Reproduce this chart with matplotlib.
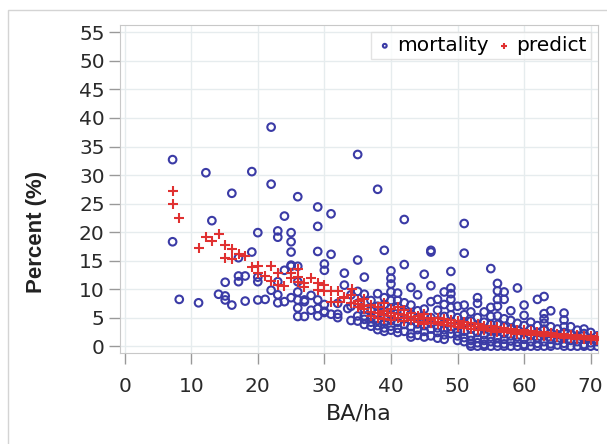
import matplotlib.pyplot as plt
import numpy as np

plt.rcParams['font.family'] = ['DejaVu Sans']

# ------------- DATA -------------
# observed mortality (%) vs basal area per ha
mort_x = [7.2, 7.2, 8.2, 11.1, 12.2, 13.1, 14.1, 15.1, 15.1, 15.1, 16.1, 16.1,
          17.1, 17.1, 17.1, 18.1, 18.1, 19.1, 19.1, 20, 20, 20, 20, 21.1,
          22, 22, 22, 23, 23, 23, 23, 23, 24, 24, 24, 25, 25, 25, 25, 25, 25,
          26, 26, 26, 26, 26, 26, 26, 27, 27, 27, 28, 28, 29, 29, 29, 29, 29, 29,
          30, 30, 30, 30, 30, 31, 31, 31, 32, 32, 32, 33, 33, 33.5,
          34, 34, 34,
          35, 35, 35, 35, 35, 35,
          36, 36, 36, 36, 36, 36,
          37, 37, 37, 37, 37,
          38, 38, 38, 38, 38, 38, 38,
          39, 39, 39, 39, 39, 39, 39, 39,
          40, 40, 40, 40, 40, 40, 40, 40, 40, 40,
          41, 41, 41, 41, 41, 41, 41,
          42, 42, 42, 42, 42, 42, 42,
          43, 43, 43, 43, 43, 43, 43,
          44, 44, 44, 44, 44, 44,
          45, 45, 45, 45, 45, 45,
          46, 46, 46, 46, 46, 46, 46, 46,
          47, 47, 47, 47, 47, 47,
          48, 48, 48, 48, 48, 48, 48,
          49, 49, 49, 49, 49, 49, 49, 49, 49,
          50, 50, 50, 50, 50, 50,
          51, 51, 51, 51, 51, 51, 51, 51,
          52, 52, 52, 52, 52, 52, 52,
          53, 53, 53, 53, 53, 53, 53, 53,
          54, 54, 54, 54, 54, 54, 54,
          55, 55, 55, 55, 55, 55, 55, 55,
          56, 56, 56, 56, 56, 56, 56, 56, 56, 56,
          57, 57, 57, 57, 57, 57, 57, 57,
          58, 58, 58, 58, 58, 58,
          59, 59, 59, 59, 59, 59,
          60, 60, 60, 60, 60, 60, 60,
          61, 61, 61, 61, 61,
          62, 62, 62, 62, 62, 62,
          63, 63, 63, 63, 63, 63, 63, 63,
          64, 64, 64, 64, 64, 64,
          65, 65, 65, 65,
          66, 66, 66, 66, 66, 66, 66,
          67, 67, 67, 67,
          68, 68, 68, 68,
          69, 69, 69, 69, 69,
          70, 70, 70, 70,
          71, 71, 71]
mort_y = [32.7, 18.3, 8.2, 7.6, 30.4, 22.0, 9.1, 8.8, 8.1, 11.2, 26.8, 7.2,
          12.3, 11.3, 15.5, 12.3, 7.9, 30.6, 16.5, 19.9, 12.1, 11.3, 8.1, 8.2,
          38.4, 28.4, 9.8, 20.2, 19.1, 11.3, 9.0, 7.6, 22.8, 13.3, 7.8, 19.9, 18.3, 16.5, 14.2, 8.5, 14.0,
          26.2, 14.0, 11.3, 9.5, 6.7, 5.2, 8.1, 7.8, 5.2, 8.1, 8.9, 6.3, 24.4, 21.0, 16.6, 8.1, 6.6, 5.3,
          14.4, 13.3, 7.3, 6.1, 5.9, 23.2, 16.1, 5.6, 7.5, 5.6, 5.0, 12.8, 10.7, 6.6,
          9.0, 7.0, 4.5,
          33.6, 15.1, 9.6, 7.5, 5.3, 4.4,
          12.1, 9.1, 6.5, 5.3, 4.7, 3.8,
          8.0, 6.2, 5.0, 4.2, 3.5,
          27.5, 9.2, 7.0, 5.8, 4.5, 3.6, 2.9,
          16.8, 8.5, 7.3, 6.0, 5.0, 4.2, 3.2, 2.6,
          13.2, 11.9, 10.9, 9.5, 8.0, 6.6, 5.5, 4.5, 3.5, 2.8,
          9.3, 8.0, 6.9, 5.2, 4.2, 3.1, 2.4,
          22.2, 14.3, 7.6, 6.0, 4.8, 3.8, 2.6,
          10.3, 7.2, 5.6, 4.5, 3.4, 2.2, 1.6,
          9.0, 6.2, 5.0, 3.9, 2.9, 1.9,
          12.6, 6.5, 5.2, 3.6, 2.6, 1.6,
          16.5, 16.8, 10.6, 7.8, 5.0, 4.0, 3.0, 1.8,
          8.2, 6.3, 4.4, 3.2, 2.4, 1.4,
          9.5, 7.3, 5.2, 4.0, 2.9, 2.0, 1.2,
          13.1, 10.2, 9.2, 8.2, 6.8, 5.5, 4.1, 3.0, 2.2,
          7.0, 5.0, 3.6, 2.5, 1.8, 1.0,
          21.5, 16.3, 7.2, 5.5, 4.0, 2.6, 1.5, 0.8,
          6.0, 4.4, 3.0, 1.8, 1.0, 0.4, 0.0,
          8.5, 7.5, 5.0, 3.6, 2.4, 1.4, 0.6, 0.0,
          6.0, 4.2, 3.0, 2.0, 1.0, 0.3, 0.0,
          13.6, 6.8, 5.2, 3.8, 2.6, 1.6, 0.8, 0.0,
          11.0, 9.7, 8.2, 7.0, 5.3, 3.8, 2.6, 1.5, 0.6, 0.0,
          9.5, 8.2, 4.8, 3.4, 2.2, 1.2, 0.4, 0.0,
          6.2, 4.5, 3.0, 1.8, 0.9, 0.0,
          10.2, 4.0, 2.8, 1.6, 0.7, 0.0,
          7.2, 5.4, 3.6, 2.4, 1.2, 0.3, 0.0,
          4.2, 3.0, 1.8, 0.8, 0.0,
          8.2, 3.6, 2.4, 1.4, 0.5, 0.0,
          8.7, 5.7, 4.8, 4.0, 3.0, 1.8, 0.8, 0.0,
          6.2, 3.4, 2.2, 1.2, 0.4, 0.0,
          3.0, 2.0, 1.0, 0.2,
          5.8, 4.6, 3.4, 2.4, 1.4, 0.5, 0.0,
          3.4, 2.0, 1.0, 0.0,
          2.8, 1.8, 0.8, 0.0,
          3.0, 2.2, 1.2, 0.3, 0.0,
          2.4, 1.4, 0.6, 0.0,
          1.8, 0.8, 0.0]

# model prediction
pred_x = [7.25, 7.25, 8.2, 11.2, 12.2, 13.1, 14.1, 15.1, 15.1, 16.1, 16.1, 17.1,
          18.1, 19.1, 20.1, 20.1, 21.1, 22, 22, 23, 23, 24, 25, 25, 26, 26, 26,
          27, 27, 28, 29, 29, 30, 30, 31, 32, 31, 32, 33, 33, 34.2,
          34, 34, 35, 35, 35, 36, 36, 36, 37, 37, 37, 38, 38, 38,
          39, 39, 39, 39, 40, 40, 40, 40, 41, 41, 41, 42, 42, 42, 42,
          43, 43, 43, 44, 44, 44, 45, 45, 45, 45, 46, 46, 46, 47, 47, 47,
          48, 48, 48, 49, 49, 49, 50, 50, 50, 51, 51, 51, 52, 52, 52,
          53, 53, 53, 54, 54, 54, 55, 55, 55, 56, 56, 56, 57, 57, 57,
          58, 58, 58, 59, 59, 59, 60, 60, 60, 61, 61, 61, 62, 62, 62,
          63, 63, 63, 64, 64, 64, 65, 65, 65, 66, 66, 66, 67, 67, 67,
          68, 68, 68, 69, 69, 69, 70, 70, 70, 71, 71, 71]
pred_y = [27.2, 25.0, 22.5, 17.2, 19.1, 18.4, 19.7, 17.8, 15.5, 17.0, 15.2, 16.1,
          15.8, 13.9, 14.1, 12.9, 12.3, 14.1, 11.4, 12.8, 10.7, 10.6, 12.9, 11.9, 13.6, 12.2, 11.3,
          11.1, 10.4, 12.0, 11.1, 9.9, 10.7, 9.7, 9.7, 9.7, 7.8, 7.8, 8.7, 8.5, 10.1,
          9.0, 7.5, 8.0, 6.8, 7.4, 8.3, 6.5, 7.0, 7.2, 6.0, 5.2, 6.8, 5.8, 5.0,
          7.5, 6.2, 5.4, 4.8, 6.5, 5.8, 5.2, 4.6, 6.8, 5.6, 5.0, 6.3, 5.5, 4.9, 4.4,
          5.8, 5.1, 4.5, 5.3, 4.8, 4.2, 5.6, 4.9, 4.3, 3.9, 5.0, 4.5, 4.0, 4.9, 4.3, 3.8,
          4.7, 4.2, 3.7, 4.5, 4.0, 3.5, 4.4, 3.9, 3.4, 4.2, 3.7, 3.2, 4.0, 3.5, 3.0,
          3.8, 3.3, 2.9, 3.6, 3.2, 2.8, 3.5, 3.0, 2.6, 3.3, 2.9, 2.5, 3.2, 2.8, 2.4,
          3.0, 2.6, 2.3, 2.9, 2.5, 2.2, 2.8, 2.4, 2.1, 2.6, 2.3, 2.0, 2.5, 2.2, 1.9,
          2.4, 2.1, 1.8, 2.3, 2.0, 1.7, 2.2, 1.9, 1.6, 2.1, 1.8, 1.5, 2.0, 1.7, 1.4,
          1.9, 1.6, 1.3, 1.8, 1.5, 1.2, 1.7, 1.4, 1.1, 1.6, 1.3, 1.0]

x_ticks = [0, 10, 20, 30, 40, 50, 60, 70]
y_ticks = [0, 5, 10, 15, 20, 25, 30, 35, 40, 45, 50, 55]

#------------------PLOT------------------
fig = plt.figure(figsize=(6.07, 4.44), dpi=100)

# faint outer frame of the original figure
fig.patches.append(plt.Rectangle((8 / 607, -0.1), 1.1, 1 - 10 / 444 + 0.1,
                                 transform=fig.transFigure, fill=False,
                                 edgecolor='#d4d4d4', linewidth=1.0))

ax = fig.add_axes([120 / 607, 1 - 353 / 444, 478 / 607, 328 / 444])

ax.scatter(mort_x, mort_y, s=30, facecolors='none', edgecolors='#3b3ba6',
           linewidths=1.5, label='mortality', zorder=3)
ax.scatter(pred_x, pred_y, s=55, marker='+', color='#e03131',
           linewidths=1.5, label='predict', zorder=4)

ax.set_xlim(-0.7, 71.1)
ax.set_ylim(-1.2, 56.3)
ax.set_xticks(x_ticks)
ax.set_yticks(y_ticks)
ax.tick_params(labelsize=14.5, length=8, color='#999999', width=1.0,
               labelcolor='#2a2a2a', pad=3)
ax.tick_params(axis='x', pad=9)
ax.grid(color='#e6ecee', linewidth=1.0)
ax.set_axisbelow(True)
for s in ax.spines.values():
    s.set_color('#c8c8c8')

ax.set_xlabel('BA/ha', fontsize=16, color='#222222', labelpad=6)
ax.set_ylabel('Percent (%)', fontsize=16, fontweight='bold', color='#222222',
              family='Liberation Sans')
ax.yaxis.set_label_coords(-0.152, 0.37)

leg = ax.legend(loc='upper right', ncol=2, fontsize=14.5, markerscale=0.5,
                handletextpad=0.1, columnspacing=0.3, borderpad=0.2,
                handlelength=1.0, borderaxespad=0.35, fancybox=False)
leg.get_frame().set_edgecolor('#dddddd')
leg.get_frame().set_linewidth(1.0)

plt.savefig('out.png', dpi=100)
